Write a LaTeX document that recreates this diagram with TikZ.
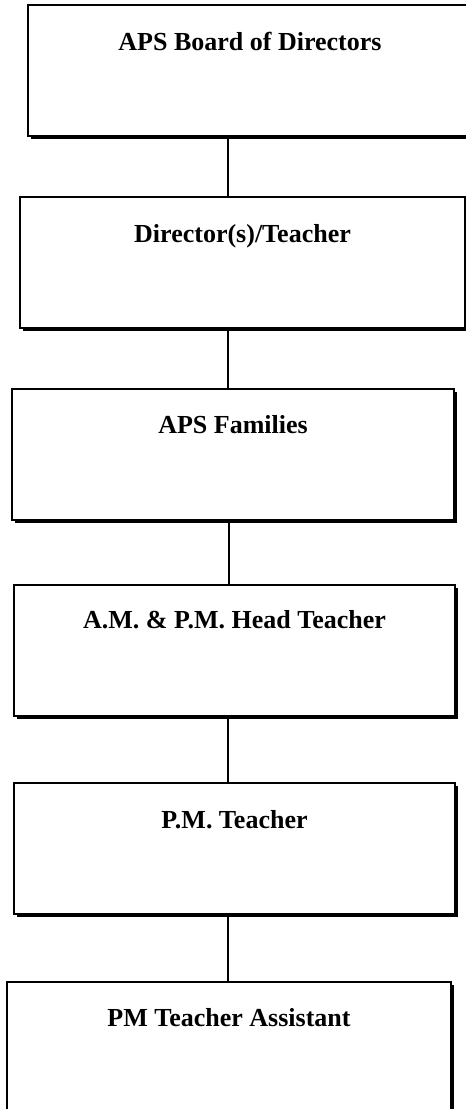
\documentclass[tikz,border=0pt]{standalone}
\usepackage{fontspec}
\setmainfont{Liberation Serif}
\usetikzlibrary{shadows}
\begin{document}
\begin{tikzpicture}[x=1pt,y=-1pt,
  orgbox/.style={draw=black, line width=2.2pt, fill=white, rectangle, inner sep=0pt, outer sep=0pt,
    anchor=north west, minimum height=131pt,
    drop shadow={shadow xshift=3pt, shadow yshift=-3pt, fill=black, opacity=1}},
  orgtext/.style={anchor=base, inner sep=0pt, font=\fontsize{26}{31}\selectfont\bfseries},
  link/.style={draw=black, line width=1.2pt}]
\useasboundingbox (0,0) rectangle (466,1109);
\coordinate (cx) at (228,0);
\node[orgbox, minimum width=444pt] (b1) at (28,5) {};
\node[orgbox, minimum width=445pt] (b2) at (20,197) {};
\node[orgbox, minimum width=442pt] (b3) at (12,389) {};
\node[orgbox, minimum width=441pt] (b4) at (14,585) {};
\node[orgbox, minimum width=441pt] (b5) at (14,783) {};
\node[orgbox, minimum width=444pt] (b6) at (7,982) {};
\node[orgtext] (t1) at ([yshift=-45pt]b1.north) {APS Board of Directors};
\node[orgtext] (t2) at ([yshift=-45pt]b2.north) {Director(s)/Teacher};
\node[orgtext] (t3) at ([yshift=-44pt]b3.north) {APS Families};
\node[orgtext] (t4) at ([yshift=-43pt]b4.north) {A.M. \& P.M. Head Teacher};
\node[orgtext] (t5) at ([yshift=-45pt]b5.north) {P.M. Teacher};
\node[orgtext] (t6) at ([yshift=-44pt]b6.north) {PM Teacher Assistant};
\draw[link] ([yshift=-3pt]b1.south -| cx) -- (b2.north -| cx);
\draw[link] ([yshift=-3pt]b2.south -| cx) -- (b3.north -| cx);
\draw[link] ([yshift=-3pt,xshift=1pt]b3.south -| cx) -- ([xshift=1pt]b4.north -| cx);
\draw[link] ([yshift=-3pt]b4.south -| cx) -- (b5.north -| cx);
\draw[link] ([yshift=-3pt]b5.south -| cx) -- (b6.north -| cx);
\end{tikzpicture}
\end{document}
